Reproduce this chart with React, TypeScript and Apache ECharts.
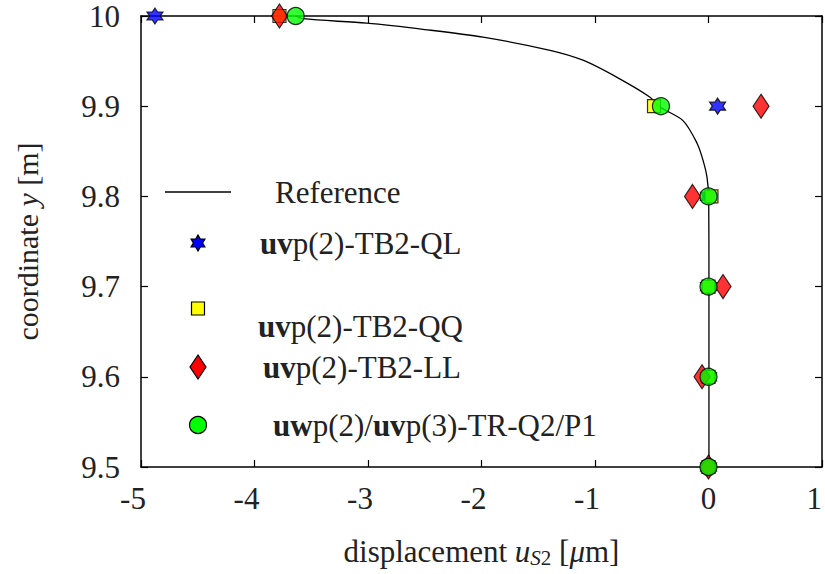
import React, { useEffect, useRef } from "react";
import * as echarts from "echarts";

const xTicks = [-5, -4, -3, -2, -1, 0, 1];
const yTicks = [9.5, 9.6, 9.7, 9.8, 9.9, 10];

const refX = [-3.637, -3.573, -3.012, -2.5, -1.987, -1.396, -1.106, -0.806, -0.515, -0.427, -0.225, -0.101, -0.048, -0.013, 0.002, 0.004, 0.004];
const refY = [10.0, 9.997, 9.992, 9.985, 9.9765, 9.962, 9.951, 9.932, 9.91, 9.899, 9.884, 9.859, 9.84, 9.821, 9.797, 9.7, 9.5];

const ptsY = [10.0, 9.9, 9.8, 9.7, 9.6, 9.5];
const qlX = [-4.877, 0.08, 0.0, 0.0, 0.0, 0.0];
const qqX = [-3.78, -0.48, 0.026, 0.0, 0.0, 0.0];
const llX = [-3.78, 0.463, -0.141, 0.128, -0.057, 0.0];
const trX = [-3.637, -0.419, 0.0, 0.0, 0.0, 0.0];

const legendNames = [
  "Reference",
  "uvp(2)-TB2-QL",
  "uvp(2)-TB2-QQ",
  "uvp(2)-TB2-LL",
  "uwp(2)/uvp(3)-TR-Q2/P1",
];

const FONT = "Liberation Serif";
const FS = 31;
const TXT = "#222";

function starPts(r: number): number[][] {
  const pts: number[][] = [];
  for (let k = 0; k < 12; k++) {
    const a = ((-90 + k * 30) * Math.PI) / 180;
    const rr = k % 2 === 0 ? r : r / Math.sqrt(3);
    pts.push([rr * Math.cos(a), rr * Math.sin(a)]);
  }
  return pts;
}

function starPath(): string {
  const p = starPts(10).map(([x, y]) => [x + 10, y + 10]);
  return "path://M" + p.map(([x, y]) => `${x.toFixed(3)},${y.toFixed(3)}`).join("L") + "Z";
}

const zip = (xs: number[], ys: number[]) => xs.map((x, i) => [x, ys[i]]);

export default function App() {
  const ref = useRef<HTMLDivElement>(null);
  useEffect(() => {
    if (!ref.current) return;
    document.documentElement.style.overflow = "hidden";
    document.body.style.overflow = "hidden";
    document.body.style.margin = "0";
    const chart = echarts.init(ref.current, null, { renderer: "svg", width: 825, height: 574 });
    const markerStroke = { borderColor: "#000", borderWidth: 1.2 };
    const lx = 198;
    const rich = {
      b: { fontFamily: FONT, fontSize: FS, fontWeight: "bold", fill: TXT },
      n: { fontFamily: FONT, fontSize: FS, fill: TXT },
    };
    const legText = (x: number, y: number, txt: string) => ({
      type: "text",
      x,
      y,
      style: {
        text: txt,
        fontFamily: FONT,
        fontSize: FS,
        fill: TXT,
        verticalAlign: "middle",
        rich,
      },
    });
    const fmtRich = (name: string) =>
      name
        .replace(/^uvp/, "{b|uv}{n|p")
        .replace(/^uwp/, "{b|uw}{n|p")
        .replace(/\/uvp/, "/}{b|uv}{n|p") + "}";
    const axLine = { show: true, onZero: false, lineStyle: { color: "#000", width: 1.5 } };
    const axTick = { show: true, inside: true, length: 7, lineStyle: { color: "#000", width: 1.2 } };
    const option: any = {
      animation: false,
      backgroundColor: "#fff",
      grid: { left: 141, top: 16, right: 3, bottom: 107, containLabel: false, outerBoundsMode: "none" },
      xAxis: [
        {
          type: "value",
          min: -5,
          max: 1,
          interval: 1,
          position: "bottom",
          axisLine: axLine,
          axisTick: axTick,
          splitLine: { show: false },
          axisLabel: {
            margin: 16,
            alignMaxLabel: "right",
            formatter: (v: number) => (v < 0 ? `{m|${v}}` : `{p|${v}}`),
            rich: {
              m: { fontFamily: FONT, fontSize: FS, color: TXT, padding: [0, 16, 0, 0] },
              p: { fontFamily: FONT, fontSize: FS, color: TXT },
            },
          },
          name: "displacement {i|u}{s|S}{t|2} {n|[}{g|μ}{n|m]}",
          nameLocation: "middle",
          nameGap: 68,
          nameTextStyle: {
            fontFamily: FONT,
            fontSize: FS,
            color: TXT,
            rich: {
              i: { fontFamily: FONT, fontSize: FS, fontStyle: "italic", color: TXT },
              s: { fontFamily: FONT, fontSize: 21, fontStyle: "italic", color: TXT, padding: [12, 0, 0, 0] },
              t: { fontFamily: FONT, fontSize: 21, color: TXT, padding: [12, 0, 0, 0] },
              n: { fontFamily: FONT, fontSize: FS, color: TXT },
              g: { fontFamily: FONT, fontSize: FS, fontStyle: "italic", color: TXT },
            },
          },
        },
        {
          type: "value",
          min: -5,
          max: 1,
          interval: 1,
          position: "top",
          axisLine: axLine,
          axisTick: axTick,
          axisLabel: { show: false },
          splitLine: { show: false },
        },
      ],
      yAxis: [
        {
          type: "value",
          min: 9.5,
          max: 10,
          interval: 0.1,
          position: "left",
          axisLine: axLine,
          axisTick: axTick,
          splitLine: { show: false },
          axisLabel: {
            margin: 21,
            fontFamily: FONT,
            fontSize: FS,
            color: TXT,
            formatter: (v: number) => (Math.abs(v - 10) < 1e-9 ? "10" : v.toFixed(1)),
          },
          name: "coordinate {i|y} [m]",
          nameLocation: "middle",
          nameGap: 99,
          nameRotate: 90,
          nameTextStyle: {
            fontFamily: FONT,
            fontSize: 30,
            color: TXT,
            rich: {
              i: { fontFamily: FONT, fontSize: 30, fontStyle: "italic", color: TXT },
            },
          },
        },
        {
          type: "value",
          min: 9.5,
          max: 10,
          interval: 0.1,
          position: "right",
          axisLine: axLine,
          axisTick: axTick,
          axisLabel: { show: false },
          splitLine: { show: false },
        },
      ],
      series: [
        {
          name: legendNames[0],
          type: "line",
          data: zip(refX, refY),
          showSymbol: false,
          smooth: 0.3,
          lineStyle: { color: "#000", width: 1.3 },
          z: 2,
        },
        {
          name: legendNames[1],
          type: "scatter",
          data: zip(qlX, ptsY),
          symbol: starPath(),
          symbolSize: 16,
          itemStyle: { color: "#0000ff", ...markerStroke },
          z: 3,
        },
        {
          name: legendNames[2],
          type: "scatter",
          data: zip(qqX, ptsY),
          symbol: "rect",
          symbolSize: 13,
          itemStyle: { color: "#ffff00", ...markerStroke },
          z: 4,
        },
        {
          name: legendNames[3],
          type: "scatter",
          data: zip(llX, ptsY),
          symbol: "diamond",
          symbolSize: [16, 24],
          itemStyle: { color: "#ff0000", ...markerStroke },
          z: 5,
        },
        {
          name: legendNames[4],
          type: "scatter",
          data: zip(trX, ptsY),
          symbol: "circle",
          symbolSize: 17,
          itemStyle: { color: "#00ff00", ...markerStroke },
          z: 6,
        },
      ],
      graphic: [
        { type: "line", shape: { x1: 165, y1: 192, x2: 231, y2: 192 }, style: { stroke: "#000", lineWidth: 1.5 } },
        legText(275, 192, legendNames[0]),
        {
          type: "polygon",
          x: lx,
          y: 243,
          shape: { points: starPts(8) },
          style: { fill: "#0000ff", stroke: "#000", lineWidth: 1.2 },
        },
        legText(260, 243, fmtRich(legendNames[1])),
        { type: "rect", shape: { x: lx - 6.5, y: 302, width: 13, height: 13 }, style: { fill: "#ffff00", stroke: "#000", lineWidth: 1.2 } },
        legText(258, 326, fmtRich(legendNames[2])),
        {
          type: "polygon",
          shape: { points: [[lx, 355], [lx + 8, 367], [lx, 379], [lx - 8, 367]] },
          style: { fill: "#ff0000", stroke: "#000", lineWidth: 1.2 },
        },
        legText(263, 367, fmtRich(legendNames[3])),
        { type: "circle", shape: { cx: lx, cy: 425, r: 8.5 }, style: { fill: "#00ff00", stroke: "#000", lineWidth: 1.2 } },
        legText(273, 425, fmtRich(legendNames[4])),
      ],
    };
    chart.setOption(option);
    return () => chart.dispose();
  }, []);
  return <div ref={ref} style={{ width: 825, height: 574, position: "fixed", left: 0, top: 0 }} />;
}
